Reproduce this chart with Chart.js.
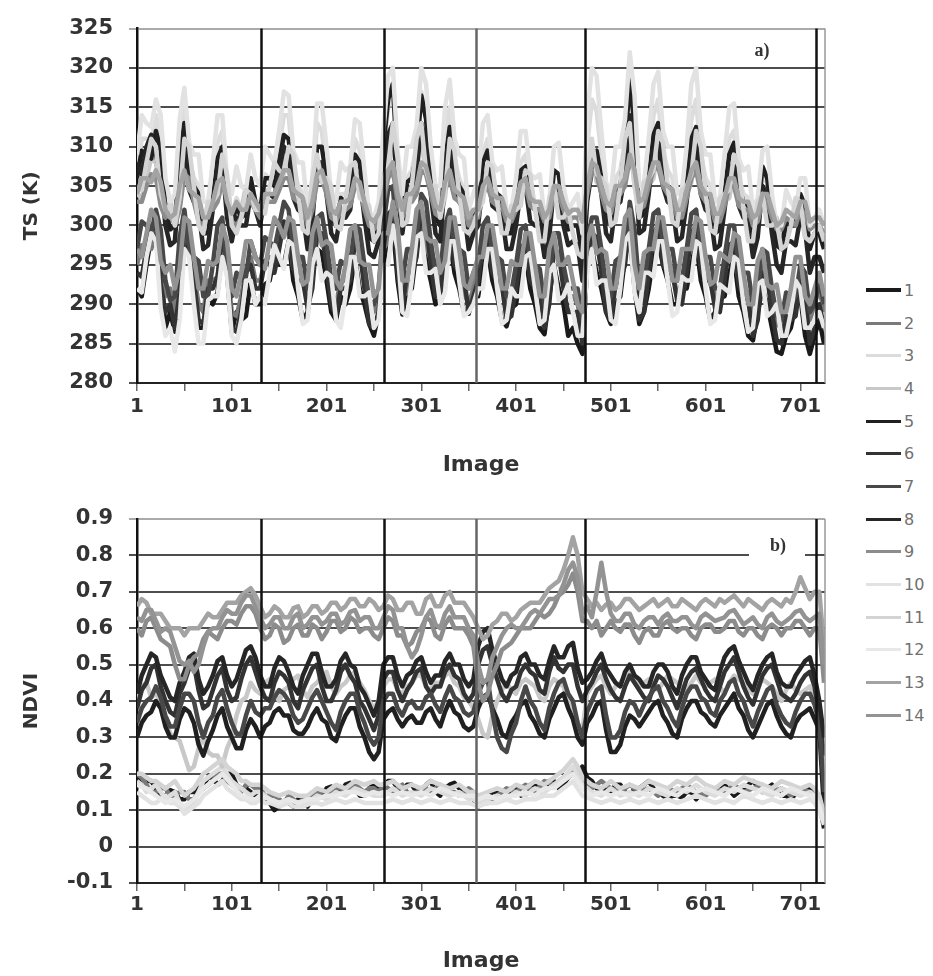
<!DOCTYPE html>
<html>
<head>
<meta charset="utf-8">
<script src="https://cdn.jsdelivr.net/npm/chart.js@4.4.1/dist/chart.umd.min.js"></script>
<style>
  html, body { margin: 0; padding: 0; background: #fff; }
  #page { position: relative; width: 933px; height: 976px; overflow: hidden; }
  #tsChart { position: absolute; left: 0; top: 0; }
  #ndviChart { position: absolute; left: 0; top: 490px; }
  #legend { position: absolute; left: 866px; top: 274px; font-family: "DejaVu Sans"; font-size: 16px; color: #707070; }
  #legend .row { height: 32.7px; display: flex; align-items: center; }
  #legend .swatch { display: inline-block; width: 35px; margin-right: 3px; }
</style>
</head>
<body>
<div id="page">
  <canvas id="tsChart" width="860" height="490"></canvas>
  <canvas id="ndviChart" width="860" height="486"></canvas>
  <div id="legend"></div>
</div>
<script>
// — DATA (one reading every 5 images) —
const images = [1, 6, 11, 16, 21, 26, 31, 36, 41, 46, 51, 56, 61, 66, 71, 76, 81, 86, 91, 96, 101, 106, 111, 116, 121, 126,
  131, 136, 141, 146, 151, 156, 161, 166, 171, 176, 181, 186, 191, 196, 201, 206, 211, 216, 221, 226, 231, 236, 241, 246, 251, 256,
  261, 266, 271, 276, 281, 286, 291, 296, 301, 306, 311, 316, 321, 326, 331, 336, 341, 346, 351, 356,
  361, 366, 371, 376, 381, 386, 391, 396, 401, 406, 411, 416, 421, 426, 431, 436, 441, 446, 451, 456, 461, 466, 471,
  476, 481, 486, 491, 496, 501, 506, 511, 516, 521, 526, 531, 536, 541, 546, 551, 556, 561, 566, 571, 576, 581, 586, 591, 596,
  601, 606, 611, 616, 621, 626, 631, 636, 641, 646, 651, 656, 661, 666, 671, 676, 681, 686, 691, 696, 701, 706, 711, 716,
  721, 726];

const seriesNames = ['1', '2', '3', '4', '5', '6', '7', '8', '9', '10', '11', '12', '13', '14'];
const seriesColors = ['#1a1a1a', '#7a7a7a', '#dcdcdc', '#c8c8c8', '#202020', '#333333', '#484848',
  '#262626', '#8c8c8c', '#e2e2e2', '#d4d4d4', '#e8e8e8', '#a3a3a3', '#939393'];

const xTicks = [1, 51, 101, 151, 201, 251, 301, 351, 401, 451, 501, 551, 601, 651, 701];
const breaks = [132, 262, 359, 474, 718];
const breakColors = ['#111', '#111', '#666', '#111', '#111'];

// surface temperature (K)
const ts1 = [292, 291, 295, 298.5, 298, 295, 287, 289, 286.5, 290, 298, 297, 291, 287, 287, 290.5, 290, 291.5, 297, 294, 286.5, 289, 288, 288.5, 293, 290,
  290, 292.5, 293, 296, 295, 295, 298, 293, 291, 288, 289, 294, 297, 296.5, 293, 289, 288, 291, 290, 292, 296, 292, 290, 287.5, 286, 289,
  295, 298.5, 300, 293, 288.7, 291.5, 292, 297, 300, 295.5, 293, 290, 290.7, 295.5, 298, 294, 292, 289, 288.8, 291,
  291, 295, 297, 293, 291, 288, 287.2, 289.5, 290, 294, 296, 292, 290, 287, 286.2, 291, 295, 292, 290, 286, 287, 285, 283.7,
  295, 297, 294, 292, 289, 287.5, 290, 291, 296, 299, 292, 287.5, 289, 292, 296, 298, 295, 293, 290, 290, 293, 292, 295, 298, 293,
  291, 288, 289, 292, 291, 294, 296, 291, 289, 286, 285.4, 289, 292, 290, 287, 284, 283.7, 286, 287, 290, 291, 286, 283.7, 286,
  288, 285];
const ts2 = [295, 297.5, 297, 297, 299, 293, 291, 292, 289, 292.5, 299, 298, 294, 290, 289, 293, 293, 293.5, 298, 295, 289, 288.5, 291, 294.5, 296, 293,
  293, 295.5, 296, 295.5, 298, 299.5, 299, 294.5, 294, 294, 291, 293, 299, 298.5, 296, 291.5, 290, 293, 293, 294.5, 298, 297, 293, 289.5, 289, 291,
  297, 298, 301, 298, 291, 291.5, 295, 299, 301, 297, 296, 295.5, 292, 294.5, 299, 298.5, 295, 291.5, 290, 292,
  294, 297, 298, 294.5, 294, 293.5, 290, 290.5, 293, 296.5, 297, 293.5, 293, 292.5, 289, 292, 297, 296.5, 293, 291, 291, 290, 287,
  296, 298, 297.5, 295, 291, 290, 293.5, 294, 296, 300, 296.5, 290, 291, 295, 298.5, 299, 296, 295, 294.5, 291, 291.5, 295, 298, 299, 295,
  294, 293.5, 291, 291, 294, 297, 297, 293, 292, 291.5, 288, 290.5, 295, 294, 290, 287.5, 287, 290, 290, 291, 294, 292.5, 288, 290,
  292, 289];
const ts3 = [307, 311, 311, 310.5, 314, 311, 303, 300.5, 301, 310.5, 315, 308.5, 306, 305, 300, 300.5, 305, 310.5, 312, 304.5, 301, 303.5, 302, 302, 306, 303,
  303, 306.5, 306, 306, 310, 314, 314, 307.5, 305, 304, 299, 303.5, 313, 312, 307, 301.5, 300, 304, 304, 305.5, 311, 309.5, 304, 299, 298, 300,
  309, 315, 317, 307, 301, 306, 307, 310, 317, 314, 307, 302.5, 302, 310.5, 315, 308.5, 306, 304.5, 299, 301,
  303, 309, 311, 305.5, 304, 303.5, 299, 299.5, 303, 308, 309, 304, 303, 302.5, 298, 301, 307, 306.5, 302, 299.5, 300, 300, 296,
  310, 316, 314.5, 309, 303, 301, 306, 307, 310.5, 318, 312.5, 302, 303, 308, 314, 316, 309.5, 307, 306, 301, 302, 307, 313.5, 316, 309,
  306, 305, 300, 301, 306, 311, 312, 306, 304, 303.5, 299, 301, 306, 305.5, 301, 297.5, 297, 300.5, 300, 300, 303, 302, 297, 299,
  299, 297];
const ts4 = [304, 303.5, 306, 308.5, 308, 303.5, 302, 303, 301, 303.5, 309, 308, 304, 300.5, 300, 303, 303, 303.5, 307, 305.5, 301, 300.5, 302, 305, 305, 303,
  302, 304.5, 304, 303.5, 306, 309, 309, 305, 304, 303.5, 300, 302.5, 308, 308, 305, 301, 300, 303, 303, 303.5, 307, 306.5, 303, 299.5, 299, 300,
  305, 306.5, 311, 307.5, 301, 301.5, 305, 309.5, 311, 306.5, 305, 304.5, 301, 303.5, 309, 308, 304, 301, 300, 301.5,
  302, 306, 307, 303.5, 303, 303, 300, 300, 302, 305.5, 306, 302.5, 302, 302, 299, 300.5, 305, 305, 302, 300, 300, 300, 297,
  305, 309, 305.5, 305, 304.5, 301, 301, 304, 309, 311, 305, 302, 305, 305, 306, 310, 309, 305, 301.5, 301, 304, 304, 305.5, 310, 308.5,
  304, 300.5, 300, 303, 303, 303.5, 307, 306, 302, 299.5, 299, 303, 304, 301, 301, 301, 298, 298, 300, 302.5, 302, 298.5, 298, 299,
  300, 298];
const ts5 = [306, 309.5, 309, 308.5, 312, 309.5, 302, 299.5, 300, 308.5, 313, 307, 305, 304, 299, 299, 303, 308.5, 310, 303, 300, 302.5, 301, 301.5, 306, 303,
  302, 306, 306, 305, 308, 311.5, 311, 305.5, 304, 303.5, 299, 302.5, 310, 310, 306, 301, 300, 303.5, 303, 304, 309, 308, 303, 298.5, 298, 300,
  310, 316, 318, 307.5, 301, 305.5, 306, 309, 316.5, 313.5, 306, 301, 300, 308, 312.5, 307, 305, 304, 299, 301,
  302, 308, 309.5, 305, 304, 303.5, 299, 299, 302, 307, 307.5, 303, 302, 302, 298, 300.5, 307, 306.5, 302, 299.5, 300, 300, 296,
  306, 309, 309.5, 306, 301, 300, 304.5, 305, 310, 318.5, 312.5, 301, 301.5, 306, 311.5, 313, 307, 305, 304.5, 300, 300.5, 305, 311, 312.5, 306,
  304, 303.5, 299, 299.5, 304, 309, 310.5, 305, 303, 302.5, 298, 301, 307.5, 306, 301, 297.5, 297, 300.5, 300, 300, 304, 302.5, 297, 299,
  299, 297];
const ts6 = [294, 293.5, 297, 300, 300, 292.5, 289, 290, 287, 291.5, 300, 298.5, 293, 288, 287.5, 292, 292, 293.5, 299, 295, 287, 286.5, 289, 294, 295, 292,
  292, 295.5, 295, 294, 297, 300.5, 300, 294.5, 293, 293, 289.5, 292, 299, 299, 295, 290, 288.5, 292, 292, 293, 298, 297, 292, 287.5, 287, 289,
  297, 301.5, 302, 294, 289.5, 294, 294, 296, 302, 300.5, 295, 291, 291, 297.5, 300, 295, 294, 293.5, 289, 291,
  293, 298, 299, 294, 293, 292.5, 288, 288.5, 292, 297, 298, 293, 292, 291.5, 287, 290, 297, 296.5, 292, 289, 289, 289, 285,
  296, 299, 298.5, 294, 289, 288, 292.5, 293, 295, 301, 296.5, 288, 289, 294, 299, 300, 295, 294, 294, 290.5, 290, 294, 299, 300, 294.5,
  293, 293, 289.5, 289, 293, 297.5, 298, 292.5, 291, 290.5, 286, 288, 294, 293.5, 289, 285.5, 285, 288.5, 288, 288.5, 293, 291, 285, 287,
  290, 287];
const ts7 = [297, 300.5, 300, 299, 302, 299.5, 293, 290.5, 291, 298.5, 302, 297, 296, 295.5, 291, 291, 295, 300, 301, 294, 291, 294, 293, 293.5, 298, 296,
  295, 298.5, 298, 297, 300, 303, 302, 297, 296, 296, 292, 294.5, 301, 301.5, 298, 293, 292, 295.5, 295, 295.5, 300, 299.5, 295, 290.5, 290, 292,
  300, 304.5, 305, 297, 293, 297, 297, 298.5, 304, 303, 298, 294, 294, 300, 302, 297.5, 297, 296.5, 292, 294,
  295, 300, 301, 296.5, 296, 295.5, 291, 291.5, 295, 299.5, 300, 295.5, 295, 294.5, 290, 292.5, 299, 299, 295, 292, 292, 292, 288,
  298, 301, 301, 297, 292, 291, 295.5, 296, 297.5, 303, 299.5, 292, 292.5, 297, 301.5, 302, 297.5, 297, 297, 293, 293, 297, 301.5, 302, 297,
  296, 296, 292, 292, 296, 300, 300, 295, 294, 294, 290, 291.5, 297, 296.5, 292, 288.5, 288, 291.5, 291, 291, 295, 294, 289, 290,
  293, 290];
const ts8 = [308, 306.5, 310, 311.5, 309, 306.5, 300, 297.5, 298, 306.5, 310, 304.5, 303, 302, 297, 297.5, 302, 307.5, 308, 301, 298, 301, 300, 300, 304, 302,
  300, 304, 304, 303.5, 307, 310, 309, 303.5, 302, 301.5, 297, 300.5, 308, 308, 304, 299, 298, 301.5, 301, 302, 307, 306, 301, 296.5, 296, 298,
  306, 311.5, 313, 304, 299, 303.5, 304, 306.5, 313, 310.5, 304, 299, 298, 306, 310, 304.5, 303, 302, 297, 299,
  300, 305.5, 307, 302.5, 302, 301.5, 297, 297, 300, 304.5, 305, 300.5, 300, 300, 296, 298.5, 305, 304.5, 300, 297.5, 298, 297.5, 293,
  303, 307, 307.5, 304, 299, 298, 302.5, 303, 306.5, 314, 309, 299, 299.5, 304, 309.5, 311, 305, 303, 302.5, 298, 298.5, 303, 308.5, 310, 304,
  302, 301.5, 297, 297.5, 302, 307, 308, 302.5, 301, 300.5, 296, 298.5, 305, 304, 299, 295, 294, 298, 298, 297.5, 301, 299.5, 294, 296,
  296, 294];
const ts9 = [303, 303, 305, 306.5, 306, 302.5, 301, 301.5, 300, 302, 306.5, 306, 303, 300.5, 300, 302, 302, 303, 305.5, 304, 300.5, 300, 301, 303, 303, 302,
  301, 303, 303, 303, 304.5, 306, 306, 303.5, 303, 302.5, 300, 302, 305.5, 306, 304, 301, 300.5, 302, 302, 302.5, 305, 304.5, 302, 300, 299.5, 300.5,
  303, 306, 307, 303, 301, 303, 303, 304, 307, 306.5, 304, 301.5, 301, 304.5, 306, 303.5, 303, 302.5, 300, 301,
  301, 304, 305, 303, 302.5, 302.5, 300.5, 300.5, 302, 304.5, 305, 302.5, 302, 302, 300.5, 301, 304, 304, 302, 300.5, 301, 301, 299.5,
  304, 307, 306.5, 304, 302, 301.5, 304, 304, 305, 308.5, 306.5, 302, 302.5, 305, 307, 307.5, 305, 304, 303.5, 301, 301, 303.5, 306, 307, 304,
  303, 303, 300.5, 300.5, 302.5, 305, 305, 302.5, 302, 302, 300, 300.5, 303, 303, 301, 299.5, 299.5, 301, 300.5, 300, 302, 301.5, 299.5, 300,
  300, 299];
const ts10 = [309, 314, 313, 312.5, 316, 314, 306, 303, 304, 313.5, 317.5, 310.5, 309, 309, 303, 303, 308, 314, 314, 306, 304, 307.5, 305, 304.5, 309, 306,
  305, 310, 309, 308, 312, 317, 316.5, 309.5, 308, 308, 302, 306, 315.5, 315.5, 310, 304, 303, 308, 307, 307.5, 313.5, 313, 307, 301.5, 301, 303,
  312, 319, 320, 309.5, 304, 310, 310, 312.5, 320, 318, 310, 305, 305, 315, 318.5, 311, 309, 308.5, 302, 304,
  306, 313, 314, 308, 307, 307.5, 302, 302, 306, 312, 312, 306.5, 306, 306.5, 301, 303, 310, 310.5, 305, 302, 303, 304, 299,
  314, 320, 319, 312, 305.5, 304, 310, 310, 313.5, 322, 316.5, 305, 305.5, 311, 318, 319.5, 312, 310, 310, 304, 304.5, 310, 318, 320, 312,
  309, 309, 303, 303.5, 309, 315, 315.5, 308.5, 307, 307.5, 302, 303.5, 309.5, 310, 304, 300, 300, 304.5, 303, 302, 306, 306, 300, 301,
  302, 300];
const ts11 = [305, 304.5, 308, 311, 310, 304, 302, 302.5, 300, 303.5, 311, 310, 305, 300, 299, 303, 303, 304, 309, 306.5, 300, 299, 301, 304.5, 304, 302,
  302, 301.5, 305, 308, 307, 306.5, 310, 309, 304, 299.5, 299, 306, 309, 305.5, 306, 305, 300, 299.5, 303, 307.5, 308, 303.5, 303, 302.5, 298, 299,
  306, 307.5, 313, 308.5, 300, 300.5, 305, 311, 313, 307, 305, 305, 301, 304, 311, 309.5, 304, 299.5, 299, 300,
  302, 303, 308, 307.5, 303, 299, 299, 302.5, 302, 302.5, 307, 306.5, 302, 298, 298, 303.5, 305, 301, 301, 302, 299, 296.5, 296,
  306, 311, 306.5, 306, 305, 300, 300.5, 305, 311, 313, 305, 301, 305.5, 306, 307, 312, 310.5, 305, 300.5, 300, 304.5, 305, 306.5, 312, 310,
  304, 299.5, 299, 303.5, 304, 304.5, 309, 307.5, 302, 298, 298, 303, 304, 300, 300, 300.5, 297, 297.5, 300, 303.5, 303, 298.5, 298, 299,
  300, 298];
const ts12 = [292, 291.5, 296, 299, 298, 289.5, 286, 287, 284, 288, 297, 296, 290, 285, 285, 290.5, 291, 291, 296, 293.5, 286, 285, 288, 293, 293, 290,
  291, 290, 294, 297.5, 296, 294.5, 298, 297.5, 292, 287.5, 288, 295, 297, 293, 294, 293.5, 288, 287, 291, 296, 296, 291, 291, 291.5, 287, 288,
  295, 295, 300, 297, 289, 288.5, 293, 298.5, 299, 294, 294, 294.5, 290, 291.5, 298, 298, 293, 288.5, 289, 290,
  292, 292, 297, 297, 292, 287.5, 288, 292, 291, 291, 296, 296.5, 292, 287.5, 288, 294, 295, 290.5, 291, 292.5, 289, 286, 286,
  294, 297, 292.5, 293, 293, 288, 287.5, 292, 298, 299, 291.5, 289, 294, 294, 293.5, 298, 298, 293, 288.5, 289, 293.5, 293, 293, 298, 297.5,
  292, 287.5, 288, 292.5, 292, 291.5, 296, 295.5, 290, 286.5, 287, 292.5, 293, 288.5, 289, 290, 286, 286, 289, 293, 292, 287, 287, 288,
  289, 287];
const ts13 = [304, 306, 306, 305.5, 307, 305.5, 302, 301, 301.5, 305, 307, 304.5, 304, 303.5, 301, 301, 303, 305.5, 306, 303, 301.5, 303, 302, 302, 304, 303,
  302, 304, 304, 304, 305.5, 307, 307, 304.5, 304, 303.5, 301, 303, 306.5, 307, 305, 302, 301.5, 303, 303, 303.5, 306, 305.5, 303, 301, 300.5, 301.5,
  304, 307, 308, 304, 302, 304, 304, 305, 308, 307.5, 305, 302.5, 302, 305.5, 307, 304.5, 304, 303.5, 301, 302,
  302, 305, 306, 304, 303.5, 303.5, 301.5, 301, 303, 305.5, 306, 303.5, 303, 303, 301, 302, 305, 305, 303, 301.5, 302, 302, 300.5,
  305, 308, 307.5, 305, 303, 302.5, 305, 305, 306, 309, 307, 303, 303.5, 306, 308, 308, 305.5, 305, 304.5, 302, 302, 304.5, 307, 308, 305,
  304, 304, 301.5, 301.5, 303.5, 306, 306, 303.5, 303, 303, 301, 301.5, 304, 304, 302, 300, 300.5, 302, 301.5, 301, 303, 303, 300.5, 301,
  301, 300];
const ts14 = [297, 296, 299, 302, 301, 295.5, 294, 295, 292, 294.5, 301, 300.5, 296, 292, 292, 295.5, 295, 295.5, 300, 298, 292, 291, 294, 298, 298, 296,
  295, 294.5, 298, 301, 300, 298.5, 301, 300.5, 296, 292.5, 293, 299, 301, 297.5, 298, 297.5, 293, 292, 295, 299.5, 300, 295.5, 295, 295, 291, 292,
  299, 299, 303, 300, 293, 293, 297, 302, 303, 298.5, 298, 298, 294, 295.5, 301, 301, 297, 292.5, 292, 294,
  296, 296, 300, 300, 296, 292, 292, 295.5, 295, 295, 299, 299, 295, 291, 291, 297, 299, 295, 295, 296, 293, 290, 289,
  298, 300, 296.5, 297, 296.5, 292, 292, 296, 301, 302, 295, 292, 296.5, 297, 297, 301, 301, 297, 293, 293, 297, 297, 297, 301, 300.5,
  296, 292.5, 293, 296.5, 296, 295.5, 299, 298.5, 294, 290, 290, 295.5, 297, 292.5, 292, 292.5, 289, 289, 292, 296, 296, 291, 290, 292,
  294, 291];

// NDVI
const nd1 = [.19, .17, .18, .18, .16, .14, .14, .155, .15, .13, .13, .15, .15, .16, .17, .19, .19, .17, .18, .20, .20, .17, .16, .16, .15, .14,
  .14, .14, .12, .10, .11, .125, .12, .11, .13, .125, .11, .13, .14, .14, .16, .165, .15, .15, .17, .175, .16, .14, .14, .16, .17, .16,
  .16, .18, .18, .16, .15, .17, .17, .15, .15, .17, .18, .15, .14, .16, .17, .175, .16, .14, .14, .13,
  .11, .12, .13, .15, .15, .13, .14, .16, .16, .14, .15, .17, .17, .15, .16, .18, .18, .16, .17, .19, .20, .19, .22,
  .19, .18, .16, .16, .155, .15, .17, .17, .15, .14, .16, .16, .17, .18, .16, .15, .14, .13, .14, .14, .135, .15, .15, .13, .145,
  .16, .16, .15, .16, .17, .155, .14, .15, .16, .17, .18, .165, .15, .16, .17, .15, .14, .14, .13, .145, .15, .15, .16, .14,
  .12, .05];
const nd2 = [.20, .19, .17, .15, .15, .16, .16, .14, .14, .15, .15, .13, .13, .15, .16, .17, .18, .20, .20, .18, .17, .16, .15, .17, .17, .16,
  .16, .14, .14, .14, .13, .12, .14, .13, .12, .13, .13, .14, .15, .14, .14, .15, .16, .16, .15, .16, .17, .16, .15, .16, .16, .15,
  .17, .16, .15, .16, .17, .15, .14, .15, .16, .16, .15, .16, .17, .16, .15, .15, .14, .15, .16, .15,
  .13, .13, .12, .13, .14, .15, .16, .155, .15, .16, .17, .16, .15, .165, .18, .175, .17, .18, .19, .20, .21, .20, .18,
  .17, .16, .17, .18, .17, .16, .155, .15, .16, .17, .16, .15, .155, .16, .15, .14, .15, .16, .155, .15, .16, .17, .16, .15, .145,
  .14, .15, .16, .155, .15, .16, .17, .16, .15, .155, .16, .165, .17, .16, .15, .155, .16, .15, .14, .15, .16, .155, .15, .15,
  .14, .08];
const nd3 = [.18, .17, .15, .16, .17, .15, .13, .14, .15, .12, .10, .11, .12, .15, .18, .19, .20, .21, .22, .20, .18, .17, .16, .15, .14, .15,
  .15, .14, .13, .125, .12, .125, .13, .125, .12, .12, .12, .13, .14, .135, .13, .14, .15, .145, .14, .15, .16, .155, .15, .145, .14, .14,
  .14, .15, .16, .15, .14, .145, .15, .145, .14, .15, .16, .155, .15, .145, .14, .145, .15, .14, .13, .13,
  .12, .125, .13, .135, .14, .135, .13, .14, .15, .145, .14, .15, .16, .155, .15, .16, .17, .18, .19, .205, .22, .20, .17,
  .16, .15, .145, .14, .15, .16, .15, .14, .145, .15, .145, .14, .15, .16, .155, .15, .145, .14, .15, .16, .155, .15, .16, .17, .16,
  .15, .145, .14, .15, .16, .155, .15, .16, .17, .165, .16, .155, .15, .145, .14, .15, .16, .155, .15, .145, .14, .145, .15, .14,
  .12, .07];
const nd4 = [.40, .44, .45, .41, .42, .40, .35, .31, .30, .29, .25, .21, .22, .27, .30, .26, .25, .25, .22, .27, .30, .36, .40, .41, .45, .43,
  .42, .45, .46, .42, .40, .43, .44, .46, .47, .43, .41, .44, .45, .47, .48, .44, .42, .44, .45, .47, .48, .45, .43, .40, .38, .40,
  .44, .46, .46, .43, .42, .44, .45, .47, .47, .44, .43, .45, .45, .47, .48, .45, .44, .41, .40, .38,
  .35, .31, .30, .36, .40, .43, .45, .43, .42, .45, .46, .45, .44, .41, .40, .44, .46, .45, .44, .40, .38, .34, .32,
  .42, .44, .46, .47, .44, .42, .44, .45, .47, .48, .46, .44, .45, .46, .44, .43, .45, .47, .46, .45, .44, .43, .45, .47, .45,
  .44, .45, .46, .44, .42, .45, .47, .46, .45, .43, .42, .44, .46, .45, .44, .42, .40, .43, .45, .43, .42, .43, .44, .41,
  .38, .30];
const nd5 = [.30, .34, .36, .37, .40, .38, .33, .30, .30, .35, .38, .37, .34, .28, .25, .29, .32, .36, .38, .33, .30, .27, .27, .32, .35, .33,
  .30, .33, .34, .37, .38, .36, .36, .32, .31, .31, .33, .36, .38, .35, .34, .30, .29, .33, .36, .38, .38, .33, .30, .26, .24, .26,
  .35, .37, .38, .35, .33, .35, .36, .34, .34, .37, .38, .35, .33, .37, .40, .37, .36, .33, .32, .33,
  .38, .41, .42, .38, .35, .31, .30, .34, .36, .39, .40, .36, .34, .31, .30, .35, .38, .41, .42, .38, .35, .30, .28,
  .34, .36, .39, .40, .32, .26, .26, .28, .33, .36, .35, .33, .35, .37, .39, .40, .36, .34, .31, .30, .35, .38, .40, .40, .37,
  .36, .34, .33, .36, .38, .40, .42, .38, .36, .32, .30, .33, .36, .39, .40, .36, .33, .31, .30, .34, .36, .37, .38, .35,
  .32, .10];
const nd6 = [.38, .43, .45, .49, .50, .44, .40, .37, .36, .42, .45, .49, .50, .43, .38, .39, .43, .47, .49, .43, .40, .41, .46, .50, .52, .48,
  .44, .41, .40, .45, .48, .47, .45, .40, .38, .43, .46, .49, .50, .44, .40, .40, .43, .48, .50, .47, .45, .40, .38, .35, .32, .36,
  .46, .48, .48, .43, .40, .43, .45, .48, .49, .44, .42, .44, .44, .48, .50, .47, .46, .42, .40, .42,
  .50, .54, .55, .50, .46, .42, .40, .43, .44, .48, .50, .48, .47, .43, .42, .48, .52, .49, .48, .50, .50, .44, .40,
  .43, .45, .48, .50, .46, .43, .41, .40, .44, .47, .45, .43, .41, .40, .44, .47, .46, .44, .41, .38, .42, .46, .48, .49, .46,
  .43, .41, .40, .44, .48, .50, .52, .48, .44, .41, .39, .43, .47, .49, .50, .46, .42, .41, .40, .42, .45, .47, .48, .44,
  .35, .25];
const nd7 = [.34, .38, .40, .41, .44, .41, .36, .33, .33, .38, .42, .42, .40, .34, .30, .34, .36, .41, .43, .38, .34, .31, .31, .36, .40, .37,
  .36, .38, .38, .41, .43, .42, .40, .36, .34, .35, .38, .41, .43, .40, .37, .34, .32, .37, .40, .42, .42, .37, .34, .30, .28, .30,
  .40, .42, .42, .38, .36, .39, .40, .38, .38, .41, .42, .39, .37, .41, .44, .41, .40, .37, .36, .37,
  .42, .45, .46, .37, .30, .27, .26, .31, .34, .40, .44, .40, .38, .34, .32, .38, .42, .45, .46, .42, .40, .34, .30,
  .37, .40, .43, .44, .36, .30, .30, .32, .37, .40, .39, .36, .39, .41, .43, .44, .40, .38, .35, .33, .38, .42, .44, .44, .41,
  .40, .37, .36, .40, .42, .45, .46, .42, .40, .36, .33, .37, .40, .43, .44, .39, .36, .34, .33, .37, .40, .42, .42, .39,
  .34, .15];
const nd8 = [.42, .47, .50, .53, .52, .47, .44, .41, .40, .45, .48, .52, .53, .46, .42, .44, .47, .51, .52, .47, .44, .46, .50, .54, .55, .52,
  .47, .44, .44, .49, .52, .51, .48, .44, .42, .47, .50, .53, .53, .48, .44, .44, .46, .51, .53, .50, .49, .44, .42, .39, .36, .40,
  .50, .52, .52, .47, .44, .47, .48, .51, .52, .48, .45, .47, .47, .51, .53, .50, .50, .46, .44, .46,
  .55, .59, .60, .54, .50, .46, .44, .47, .48, .52, .53, .50, .50, .47, .46, .51, .55, .52, .52, .55, .56, .49, .45,
  .46, .48, .51, .53, .49, .47, .45, .44, .48, .50, .47, .46, .44, .44, .48, .50, .50, .48, .44, .42, .47, .50, .52, .52, .48,
  .46, .44, .43, .48, .52, .54, .55, .51, .48, .45, .43, .47, .50, .52, .53, .48, .45, .44, .44, .47, .49, .51, .52, .47,
  .40, .30];
const nd9 = [.60, .58, .62, .63, .60, .57, .56, .55, .50, .46, .46, .50, .52, .53, .57, .59, .58, .57, .60, .62, .62, .61, .64, .66, .66, .64,
  .60, .57, .58, .61, .60, .56, .57, .60, .61, .58, .58, .61, .60, .57, .59, .62, .62, .59, .60, .63, .62, .59, .60, .60, .58, .57,
  .60, .63, .62, .58, .58, .55, .56, .59, .60, .63, .62, .58, .57, .61, .63, .60, .60, .60, .58, .55,
  .45, .40, .42, .47, .50, .54, .55, .56, .58, .60, .60, .60, .62, .64, .63, .64, .66, .69, .70, .72, .75, .70, .62,
  .62, .60, .62, .58, .60, .62, .60, .59, .61, .61, .58, .56, .59, .60, .58, .58, .61, .62, .60, .59, .60, .60, .58, .57, .60,
  .61, .61, .59, .59, .60, .62, .62, .59, .58, .60, .60, .58, .57, .60, .61, .60, .58, .60, .60, .62, .62, .60, .58, .60,
  .60, .45];
const nd10 = [.15, .14, .13, .12, .12, .13, .14, .12, .12, .11, .09, .10, .11, .12, .14, .15, .16, .17, .18, .16, .15, .14, .13, .13, .12, .12,
  .13, .12, .12, .115, .11, .115, .12, .11, .11, .11, .115, .12, .12, .115, .12, .125, .13, .125, .12, .125, .13, .125, .12, .12, .12, .12,
  .12, .125, .13, .125, .12, .125, .13, .125, .12, .125, .13, .125, .12, .125, .13, .125, .12, .12, .12, .115,
  .11, .115, .12, .12, .12, .125, .13, .125, .12, .125, .13, .13, .13, .135, .14, .14, .14, .15, .16, .17, .18, .16, .14,
  .135, .13, .125, .12, .125, .13, .125, .12, .125, .13, .125, .12, .125, .13, .125, .12, .125, .13, .125, .12, .125, .13, .135, .14, .135,
  .13, .125, .12, .125, .13, .125, .12, .13, .14, .135, .13, .125, .12, .125, .13, .125, .12, .125, .13, .125, .12, .125, .13, .12,
  .10, .06];
const nd11 = [.20, .20, .19, .18, .18, .17, .16, .17, .18, .16, .14, .15, .16, .18, .20, .21, .22, .23, .24, .22, .21, .20, .18, .18, .17, .17,
  .17, .16, .15, .145, .14, .145, .15, .145, .14, .14, .14, .15, .16, .155, .15, .16, .17, .165, .16, .17, .18, .175, .17, .175, .18, .17,
  .17, .175, .18, .17, .16, .165, .17, .165, .16, .17, .18, .175, .17, .165, .16, .165, .17, .16, .15, .15,
  .14, .145, .15, .155, .16, .155, .15, .16, .17, .165, .16, .17, .18, .175, .17, .18, .19, .20, .21, .225, .24, .22, .19,
  .18, .17, .165, .16, .17, .18, .17, .16, .165, .17, .165, .16, .17, .18, .175, .17, .165, .16, .17, .18, .175, .17, .18, .19, .18,
  .17, .165, .16, .17, .18, .175, .17, .18, .19, .185, .18, .175, .17, .165, .16, .17, .18, .175, .17, .165, .16, .165, .17, .16,
  .14, .09];
const nd12 = [.17, .165, .16, .15, .14, .13, .12, .125, .13, .12, .11, .12, .13, .145, .16, .17, .18, .19, .20, .185, .17, .155, .14, .135, .13, .13,
  .14, .135, .13, .125, .12, .125, .13, .125, .12, .125, .13, .13, .13, .135, .14, .14, .14, .145, .15, .15, .15, .145, .14, .145, .15, .145,
  .15, .145, .14, .145, .15, .145, .14, .145, .15, .145, .14, .15, .16, .155, .15, .145, .14, .14, .14, .14,
  .13, .135, .14, .135, .13, .135, .14, .14, .14, .145, .15, .145, .14, .15, .16, .16, .16, .17, .18, .19, .20, .18, .16,
  .15, .14, .145, .15, .145, .14, .145, .15, .145, .14, .145, .15, .145, .14, .15, .16, .155, .15, .145, .14, .15, .16, .155, .15, .155,
  .16, .155, .15, .145, .14, .15, .16, .155, .15, .145, .14, .15, .16, .155, .15, .145, .14, .15, .16, .155, .15, .145, .14, .14,
  .11, .07];
const nd13 = [.66, .68, .67, .64, .64, .64, .62, .60, .60, .60, .58, .60, .60, .60, .62, .64, .63, .63, .65, .67, .67, .67, .69, .70, .71, .69,
  .66, .63, .64, .66, .65, .63, .63, .655, .66, .63, .64, .66, .66, .64, .65, .67, .67, .65, .66, .68, .68, .66, .66, .68, .67, .65,
  .66, .69, .68, .65, .65, .67, .67, .64, .64, .68, .69, .66, .66, .69, .70, .67, .67, .67, .65, .63,
  .60, .57, .58, .61, .62, .64, .64, .62, .63, .65, .66, .67, .67, .67, .69, .71, .72, .73, .76, .80, .85, .80, .70,
  .68, .66, .67, .65, .665, .67, .65, .66, .68, .68, .665, .65, .66, .67, .68, .66, .67, .68, .66, .66, .68, .67, .66, .65, .67,
  .68, .67, .66, .68, .67, .68, .69, .675, .66, .68, .67, .66, .65, .67, .68, .67, .66, .68, .67, .70, .74, .71, .68, .70,
  .70, .55];
const nd14 = [.63, .62, .65, .65, .62, .59, .60, .59, .55, .51, .50, .51, .48, .50, .55, .59, .60, .60, .63, .65, .64, .64, .67, .69, .69, .66,
  .63, .60, .61, .63, .63, .60, .60, .63, .64, .60, .61, .63, .63, .61, .62, .64, .64, .61, .62, .645, .65, .62, .63, .63, .60, .60,
  .63, .66, .65, .60, .60, .55, .52, .54, .58, .63, .65, .61, .60, .64, .66, .63, .63, .63, .60, .58,
  .50, .45, .46, .52, .55, .58, .60, .61, .60, .60, .62, .64, .65, .64, .66, .68, .68, .69, .72, .76, .78, .74, .64,
  .66, .63, .70, .78, .70, .64, .62, .62, .64, .64, .61, .60, .62, .63, .63, .61, .63, .64, .62, .62, .63, .63, .61, .60, .63,
  .64, .63, .62, .625, .63, .645, .65, .63, .61, .62, .63, .61, .60, .63, .64, .62, .61, .62, .63, .645, .65, .63, .62, .63,
  .64, .50];

const tsSeries = [ts1, ts2, ts3, ts4, ts5, ts6, ts7, ts8, ts9, ts10, ts11, ts12, ts13, ts14];
const ndviSeries = [nd1, nd2, nd3, nd4, nd5, nd6, nd7, nd8, nd9, nd10, nd11, nd12, nd13, nd14];

tsSeries.concat(ndviSeries).forEach((s, i) => {
  if (s.length !== images.length) throw new Error('series ' + i + ' has ' + s.length + ' values, expected ' + images.length);
});

Chart.defaults.font.family = '"DejaVu Sans"';
Chart.defaults.color = '#333';

// break lines, right frame and the panel letter
const panelExtras = {
  id: 'panelExtras',
  afterDatasetsDraw(chart, args, opts) {
    const { ctx, chartArea: a, scales: { x } } = chart;
    ctx.save();
    ctx.strokeStyle = '#999';
    ctx.lineWidth = 1.5;
    ctx.beginPath();
    ctx.moveTo(a.right, a.top);
    ctx.lineTo(a.right, a.bottom);
    ctx.stroke();

    breaks.forEach((b, k) => {
      const px = Math.round(x.getPixelForValue(b)) + 0.5;
      ctx.strokeStyle = breakColors[k];
      ctx.lineWidth = 2.5;
      ctx.beginPath();
      ctx.moveTo(px, a.top);
      ctx.lineTo(px, a.bottom);
      ctx.stroke();
    });

    const lx = a.right + opts.dx;
    const ly = a.top + opts.dy;
    if (opts.box) {
      ctx.fillStyle = '#fff';
      ctx.fillRect(lx - 29, ly - 12, 56, 22);
    }
    ctx.fillStyle = '#333';
    ctx.font = 'bold 18px "Liberation Serif"';
    ctx.textAlign = 'center';
    ctx.textBaseline = 'middle';
    ctx.fillText(opts.label, lx, ly);
    ctx.restore();
  }
};

function make_datasets(values) {
  return values.map((vals, i) => ({
    label: seriesNames[i],
    data: images.map((img, j) => ({ x: img, y: vals[j] })),
    borderColor: seriesColors[i],
    borderWidth: 4.5,
    borderJoinStyle: 'round',
    pointRadius: 0,
    tension: 0,
    order: values.length - 1 - i   // later series drawn on top, as in the original
  }));
}

function make_chart(canvasId, values, cfg) {
  const ctx = document.getElementById(canvasId).getContext('2d');
  return new Chart(ctx, {
    type: 'line',
    data: { datasets: make_datasets(values) },
    plugins: [panelExtras],
    options: {
      responsive: false,
      devicePixelRatio: 1,
      animation: false,
      layout: { padding: { left: 0, right: cfg.padRight, top: cfg.padTop, bottom: 0 } },
      plugins: {
        legend: { display: false },
        tooltip: { enabled: false },
        panelExtras: { label: cfg.letter, dx: cfg.letterDx, dy: cfg.letterDy, box: cfg.letterBox }
      },
      scales: {
        x: {
          type: 'linear',
          min: 1,
          max: 727,
          afterBuildTicks: s => { s.ticks = xTicks.map(v => ({ value: v })); },
          afterFit: s => { s.height = cfg.xHeight; },
          ticks: {
            autoSkip: false,
            maxRotation: 0,
            padding: cfg.xTickPad,
            color: '#333',
            font: { size: 20, weight: 'bold' },
            callback: v => ((v - 1) % 100 === 0 ? String(v) : '')
          },
          grid: { drawOnChartArea: false, drawTicks: true, tickLength: 8, color: '#666', lineWidth: 1.5 },
          border: { color: '#222', width: 2 },
          title: {
            display: true,
            text: 'Image',
            color: '#333',
            font: { size: 22, weight: 'bold' },
            padding: { top: 0, bottom: cfg.xTitlePad }
          }
        },
        y: {
          min: cfg.yMin,
          max: cfg.yMax,
          afterFit: s => { s.width = 137; },
          ticks: {
            stepSize: cfg.yStep,
            padding: 16,
            color: '#333',
            font: { size: 21, weight: 'bold' },
            callback: v => cfg.yFormat(v)
          },
          grid: {
            tickLength: 8,
            lineWidth: 2,
            color: c => (c.tick && c.tick.value === cfg.yMax ? '#aaa' : '#4d4d4d')
          },
          border: { color: '#111', width: 2.5 },
          title: {
            display: true,
            text: cfg.yTitle,
            color: '#333',
            font: { size: 20, weight: 'bold' },
            padding: { top: 20, bottom: 0 }
          }
        }
      }
    }
  });
}

function render_legend() {
  const holder = document.getElementById('legend');
  seriesNames.forEach((name, i) => {
    const row = document.createElement('div');
    row.className = 'row';
    const sw = document.createElement('span');
    sw.className = 'swatch';
    sw.style.height = (i === 0 ? 4 : 3) + 'px';
    sw.style.background = seriesColors[i];
    row.appendChild(sw);
    row.append(name);
    holder.appendChild(row);
  });
}

make_chart('tsChart', tsSeries, {
  yMin: 280, yMax: 325, yStep: 5, yTitle: 'TS (K)', yFormat: v => String(v),
  padTop: 22, padRight: 35, xHeight: 107, xTickPad: 4, xTitlePad: 12,
  letter: 'a)', letterDx: -63, letterDy: 23, letterBox: false
});

make_chart('ndviChart', ndviSeries, {
  yMin: -0.1, yMax: 0.9, yStep: 0.1, yTitle: 'NDVI', yFormat: v => String(Number(v.toFixed(1))),
  padTop: 29, padRight: 35, xHeight: 93, xTickPad: 2, xTitlePad: 2,
  letter: 'b)', letterDx: -47, letterDy: 27, letterBox: true
});

render_legend();
</script>
</body>
</html>
